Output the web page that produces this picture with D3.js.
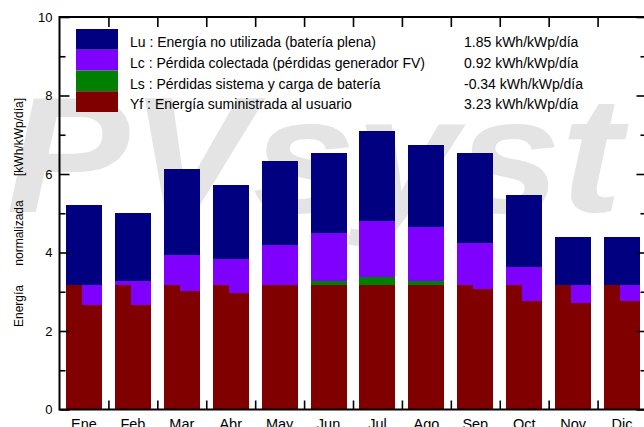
<!DOCTYPE html>
<html>
<head>
<meta charset="utf-8">
<script src="https://cdn.jsdelivr.net/npm/d3@7"></script>
<style>
  html, body { margin: 0; padding: 0; background: #fff; }
  svg { display: block; font-family: "Liberation Sans", Arial, sans-serif; }
</style>
</head>
<body>
<svg id="chart" width="644" height="427"></svg>
<script>
// Monthly normalized energy, kWh/kWp/day
const months = ["Ene", "Feb", "Mar", "Abr", "May", "Jun", "Jul", "Ago", "Sep", "Oct", "Nov", "Dic"];
const yf = [3.16, 3.16, 3.16, 3.16, 3.17, 3.17, 3.17, 3.17, 3.16, 3.16, 3.16, 3.16]; // energy delivered to the user
const ls = [-0.51, -0.51, -0.14, -0.20, 0.00, 0.10, 0.21, 0.10, -0.10, -0.40, -0.45, -0.40]; // system / battery losses
const lc = [0.53, 0.62, 0.91, 0.87, 1.02, 1.22, 1.42, 1.37, 1.18, 0.87, 0.45, 0.40]; // collection losses
const lu = [2.02, 1.73, 2.20, 1.89, 2.14, 2.04, 2.30, 2.10, 2.29, 1.83, 1.23, 1.23]; // unused energy

const legendLabels = [
  "Lu : Energía no utilizada (batería plena)",
  "Lc : Pérdida colectada (pérdidas generador FV)",
  "Ls : Pérdidas sistema y carga de batería",
  "Yf : Energía suministrada al usuario"
];
const legendValues = ["1.85 kWh/kWp/día", "0.92 kWh/kWp/día", "-0.34 kWh/kWp/día", "3.23 kWh/kWp/día"];
const yTicks = [0, 2, 4, 6, 8, 10];
const yMinorTicks = [1, 3, 5, 7, 9];

const colors = { lu: "#000080", lc: "#8000ff", ls: "#008000", yf: "#800000" };

const svg = d3.select("#chart");
const pLeft = 59.5, pRight = 646.5, pTop = 17, pBottom = 409.5;

const x = d3.scaleBand().domain(months).range([pLeft, pRight]).paddingInner(0.264).paddingOuter(0.132);
const xEdge = d3.scaleLinear().domain([0, months.length]).range([pLeft, pRight]);
const y = d3.scaleLinear().domain([0, 10]).range([pBottom, pTop]);

// Watermark
svg.append("text")
  .attr("transform", "translate(6,212) scale(1.12,1)")
  .attr("font-size", 165).attr("font-style", "italic").attr("font-weight", "bold")
  .attr("fill", "#e4e4e4")
  .text("PVsyst");

// Bars
const data = months.map((m, i) => {
  const ya = yf[i] + ls[i];
  return { m, yf: yf[i], ls: ls[i], ya, lcTop: ya + lc[i], top: ya + lc[i] + lu[i] };
});

const bars = svg.append("g").attr("shape-rendering", "crispEdges");
const bw = x.bandwidth();
const notchW = bw * 0.44;

data.forEach(d => {
  const x0 = x(d.m);
  // unused energy
  bars.append("rect").attr("x", x0).attr("width", bw)
    .attr("y", y(d.top)).attr("height", y(d.lcTop) - y(d.top)).attr("fill", colors.lu);
  // collection losses
  bars.append("rect").attr("x", x0).attr("width", bw)
    .attr("y", y(d.lcTop)).attr("height", y(d.ya) - y(d.lcTop)).attr("fill", colors.lc);
  // system losses (positive part)
  if (d.ls > 0) {
    bars.append("rect").attr("x", x0).attr("width", bw)
      .attr("y", y(d.ya)).attr("height", y(d.yf) - y(d.ya)).attr("fill", colors.ls);
  }
  // energy delivered: full width up to array yield or Yf
  const base = Math.min(d.ya, d.yf);
  bars.append("rect").attr("x", x0).attr("width", bw)
    .attr("y", y(base)).attr("height", y(0) - y(base)).attr("fill", colors.yf);
  // battery contribution: left part of the bar reaches Yf
  if (d.ls < 0) {
    bars.append("rect").attr("x", x0).attr("width", notchW)
      .attr("y", y(d.yf)).attr("height", y(0) - y(d.yf)).attr("fill", colors.yf);
  }
});

// Frame
svg.append("rect")
  .attr("x", pLeft).attr("y", pTop).attr("width", pRight - pLeft).attr("height", pBottom - pTop)
  .attr("fill", "none").attr("stroke", "#000").attr("stroke-width", 2);

function styleAxis(g) {
  g.select(".domain").remove();
  g.selectAll(".tick line").attr("stroke", "#000").attr("stroke-width", 1.6);
}

// Y axis left: major with labels, minor ticks
svg.append("g").attr("transform", `translate(${pLeft},0)`)
  .call(d3.axisLeft(y).tickValues(yTicks).tickSizeInner(-10).tickSizeOuter(0).tickPadding(7).tickFormat(d3.format("d")))
  .call(styleAxis)
  .call(g => g.selectAll(".tick text").attr("font-size", 13).attr("fill", "#000")
    .attr("font-family", "'Liberation Sans', Arial, sans-serif"));
svg.append("g").attr("transform", `translate(${pLeft},0)`)
  .call(d3.axisLeft(y).tickValues(yMinorTicks).tickSizeInner(-6).tickSizeOuter(0).tickFormat(""))
  .call(styleAxis);

// Y axis right
svg.append("g").attr("transform", `translate(${pRight},0)`)
  .call(d3.axisRight(y).tickValues(yTicks).tickSizeInner(-10).tickSizeOuter(0).tickFormat(""))
  .call(styleAxis);
svg.append("g").attr("transform", `translate(${pRight},0)`)
  .call(d3.axisRight(y).tickValues(yMinorTicks).tickSizeInner(-6).tickSizeOuter(0).tickFormat(""))
  .call(styleAxis);

// X ticks between months, bottom and top
const edges = d3.range(1, months.length);
svg.append("g").attr("transform", `translate(0,${pBottom})`)
  .call(d3.axisBottom(xEdge).tickValues(edges).tickSizeInner(-9).tickSizeOuter(0).tickFormat(""))
  .call(styleAxis);
svg.append("g").attr("transform", `translate(0,${pTop})`)
  .call(d3.axisTop(xEdge).tickValues(edges).tickSizeInner(-10).tickSizeOuter(0).tickFormat(""))
  .call(styleAxis);

// Month labels
svg.append("g").attr("transform", `translate(0,${pBottom})`)
  .call(d3.axisBottom(x).tickSize(0).tickPadding(9))
  .call(g => g.select(".domain").remove())
  .call(g => g.selectAll(".tick text").attr("font-size", 14.5).attr("fill", "#000")
    .attr("font-family", "'Liberation Sans', Arial, sans-serif"));

// Y axis title, three words spread along the axis
const yTitle = [["Energía", 306], ["normalizada", 233], ["[kWh/kWp/día]", 137]];
yTitle.forEach(([t, cy]) => {
  svg.append("text")
    .attr("transform", `translate(23,${cy}) rotate(-90)`)
    .attr("text-anchor", "middle").attr("font-size", 12).attr("fill", "#000")
    .text(t);
});

// Legend
const legendKeys = ["lu", "lc", "ls", "yf"];
const lg = svg.append("g");
legendKeys.forEach((k, i) => {
  const ry = 29 + i * 20.75;
  lg.append("rect").attr("x", 76).attr("y", ry).attr("width", 42).attr("height", 20.75).attr("fill", colors[k]);
  lg.append("text").attr("x", 130).attr("y", ry + 18).attr("font-size", 14).attr("fill", "#000").text(legendLabels[i]);
  lg.append("text").attr("x", 464).attr("y", ry + 18).attr("font-size", 14).attr("fill", "#000").text(legendValues[i]);
});
</script>
</body>
</html>
